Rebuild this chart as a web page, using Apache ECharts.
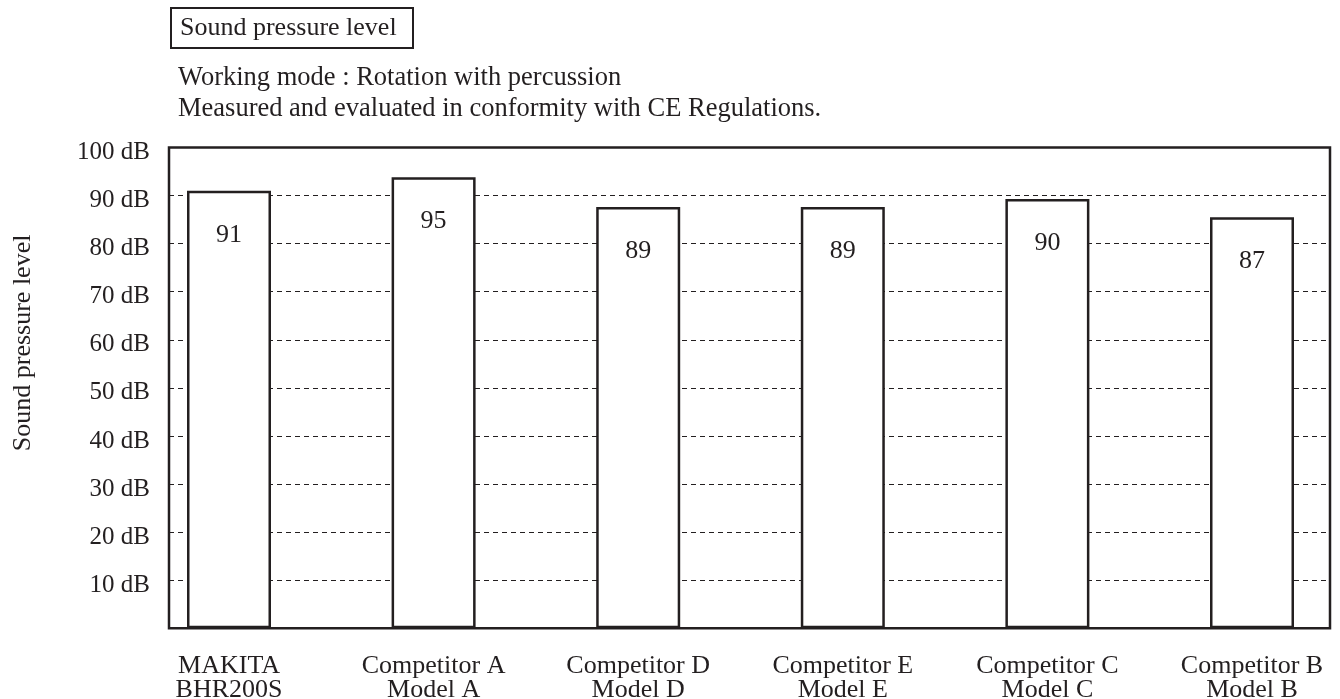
<!DOCTYPE html>
<html>
<head>
<meta charset="utf-8">
<title>Sound pressure level</title>
<script src="https://cdn.jsdelivr.net/npm/echarts@6/dist/echarts.min.js"></script>
<style>
  html, body { margin: 0; padding: 0; background: #ffffff; }
  #chart { width: 1340px; height: 699px; }
</style>
</head>
<body>
<div id="chart"></div>
<script>
// ---- Data ----
const categoryLabels = [
  'MAKITA\nBHR200S',
  'Competitor A\nModel A',
  'Competitor D\nModel D',
  'Competitor E\nModel E',
  'Competitor C\nModel C',
  'Competitor B\nModel B'
];
// bar heights as drawn (dB)
const barLevels = [91.0, 93.8, 87.6, 87.6, 89.3, 85.5];
// values printed inside the bars
const printedValues = [91, 95, 89, 89, 90, 87];
const titleText = 'Sound pressure level';
const subtitleLines = [
  'Working mode : Rotation with percussion',
  'Measured and evaluated in conformity with CE Regulations.'
];
const yAxisName = 'Sound pressure level';
const yUnit = ' dB';

// ---- Styling ----
const ink = '#231f20';
const serif = 'Liberation Serif';

const chart = echarts.init(document.getElementById('chart'), null, { renderer: 'canvas' });

const option = {
  animation: false,
  backgroundColor: '#ffffff',
  title: [
    {
      text: titleText,
      left: 171,
      top: 8,
      padding: [6, 17, 6, 9],
      borderColor: ink,
      borderWidth: 2,
      textStyle: { fontFamily: serif, fontSize: 26, fontWeight: 'normal', color: ink, lineHeight: 28 }
    },
    {
      text: subtitleLines.join('\n'),
      left: 178,
      top: 63,
      padding: 0,
      textStyle: { fontFamily: serif, fontSize: 26.5, fontWeight: 'normal', color: ink, lineHeight: 31 }
    }
  ],
  grid: [
    { left: 169, right: 10, top: 147.5, bottom: 70.7, outerBoundsMode: 'none', containLabel: false,
      show: true, borderColor: ink, borderWidth: 2.5, backgroundColor: 'transparent' },
    { left: 229, right: 88, top: 147.5, bottom: 70.7, outerBoundsMode: 'none', containLabel: false }
  ],
  xAxis: [
    { gridIndex: 0, type: 'category', data: categoryLabels, show: false },
    {
      gridIndex: 1,
      type: 'category',
      data: categoryLabels,
      boundaryGap: false,
      axisLine: { show: false },
      axisTick: { show: false },
      splitLine: { show: false },
      axisLabel: { interval: 0, margin: 26, fontFamily: serif, fontSize: 26, lineHeight: 24, color: ink, align: 'center' }
    }
  ],
  yAxis: [
    {
      gridIndex: 0,
      type: 'value',
      min: 0,
      max: 100,
      interval: 10,
      axisLine: { show: false },
      axisTick: { show: false },
      axisLabel: {
        margin: 19,
        fontFamily: serif,
        fontSize: 25,
        color: ink,
        verticalAlign: 'top',
        lineHeight: 10,
        formatter: function (v) { return v === 0 ? '' : v + yUnit; }
      },
      splitLine: { show: true, lineStyle: { type: [5, 4], color: ink, width: 1 } },
      name: yAxisName,
      nameLocation: 'middle',
      nameGap: 133,
      nameTextStyle: { fontFamily: serif, fontSize: 26, color: ink, padding: [0, 0, 0, 90] }
    },
    { gridIndex: 1, type: 'value', min: 0, max: 100, show: false }
  ],
  series: [
    {
      type: 'bar',
      xAxisIndex: 1,
      yAxisIndex: 1,
      data: barLevels,
      barWidth: 84,
      clip: false,
      silent: true,
      itemStyle: { color: '#ffffff', borderColor: ink, borderWidth: 2.5 },
      label: {
        show: true,
        position: 'insideTop',
        distance: 31,
        fontFamily: serif,
        fontSize: 26,
        color: ink,
        formatter: function (p) { return String(printedValues[p.dataIndex]); }
      }
    }
  ]
};

chart.setOption(option);
</script>
</body>
</html>
